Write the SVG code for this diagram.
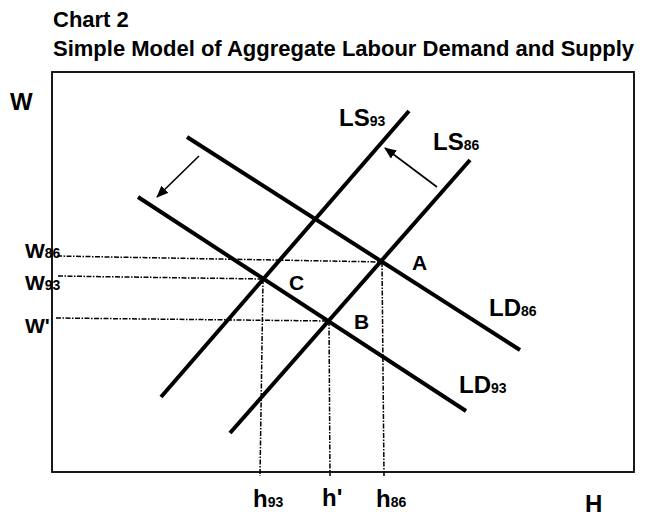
<svg xmlns="http://www.w3.org/2000/svg" width="646" height="517" viewBox="0 0 646 517">
<defs>
<style>
text{font-family:"Liberation Sans",Arial,sans-serif;font-weight:bold;fill:#000}
.title{font-size:22px}
.big{font-size:24px}
.lab{font-size:21px}
.sub{font-size:14px}
.curve{stroke:#000;stroke-width:4;fill:none;stroke-linecap:butt}
.dot{stroke:#000;stroke-width:1.5;fill:none;stroke-dasharray:5 1.5 1.5 1.5}
.shift{stroke:#000;stroke-width:1.6;fill:none}
</style>
<marker id="ah" viewBox="0 0 12 10" refX="11" refY="5" markerWidth="12" markerHeight="10" markerUnits="userSpaceOnUse" orient="auto">
<path d="M0,0 L12,5 L0,10 Z" fill="#000"/>
</marker>
</defs>
<rect width="646" height="517" fill="#fff"/>
<g id="title">
<text class="title" x="53" y="27">Chart 2</text>
<text class="title" x="53" y="56">Simple Model of Aggregate Labour Demand and Supply</text>
</g>
<g id="frame">
<rect x="52" y="72" width="582" height="400" fill="none" stroke="#000" stroke-width="1.8"/>
</g>
<g id="axis-labels">
<text class="big" x="10" y="110">W</text>
<text class="big" x="585" y="512">H</text>
</g>
<g id="connectors">
<line class="dot" x1="57" y1="256" x2="382" y2="262"/>
<line class="dot" x1="58" y1="276" x2="263" y2="279"/>
<line class="dot" x1="56" y1="318" x2="329" y2="321"/>
<line class="dot" x1="263" y1="279" x2="260" y2="476"/>
<line class="dot" x1="329" y1="321" x2="330" y2="476"/>
<line class="dot" x1="382" y1="262" x2="384" y2="476"/>
<line class="shift" x1="199" y1="156" x2="157" y2="197" marker-end="url(#ah)"/>
<line class="shift" x1="437" y1="187" x2="385" y2="148" marker-end="url(#ah)"/>
</g>
<g id="LD86">
<line class="curve" x1="187" y1="137" x2="520" y2="350"/>
<text class="big" x="489" y="316">LD<tspan class="sub">86</tspan></text>
</g>
<g id="LD93">
<line class="curve" x1="138" y1="197" x2="466" y2="411"/>
<text class="big" x="459" y="393">LD<tspan class="sub">93</tspan></text>
</g>
<g id="LS93">
<line class="curve" x1="409" y1="111" x2="161" y2="397"/>
<text class="big" x="339" y="126">LS<tspan class="sub">93</tspan></text>
</g>
<g id="LS86">
<line class="curve" x1="470" y1="160" x2="230" y2="433"/>
<text class="big" x="433" y="150">LS<tspan class="sub">86</tspan></text>
</g>
<g id="points">
<text class="lab" x="412" y="270">A</text>
<text class="lab" x="354" y="329">B</text>
<text class="lab" x="289" y="290">C</text>
</g>
<g id="w-labels">
<text class="lab" x="25" y="258">W<tspan class="sub">86</tspan></text>
<text class="lab" x="25" y="290">W<tspan class="sub">93</tspan></text>
<text class="lab" x="25" y="333">W'</text>
</g>
<g id="h-labels">
<text class="big" x="253" y="507">h<tspan class="sub">93</tspan></text>
<text class="big" x="322" y="506">h'</text>
<text class="big" x="376" y="507">h<tspan class="sub">86</tspan></text>
</g>
</svg>
